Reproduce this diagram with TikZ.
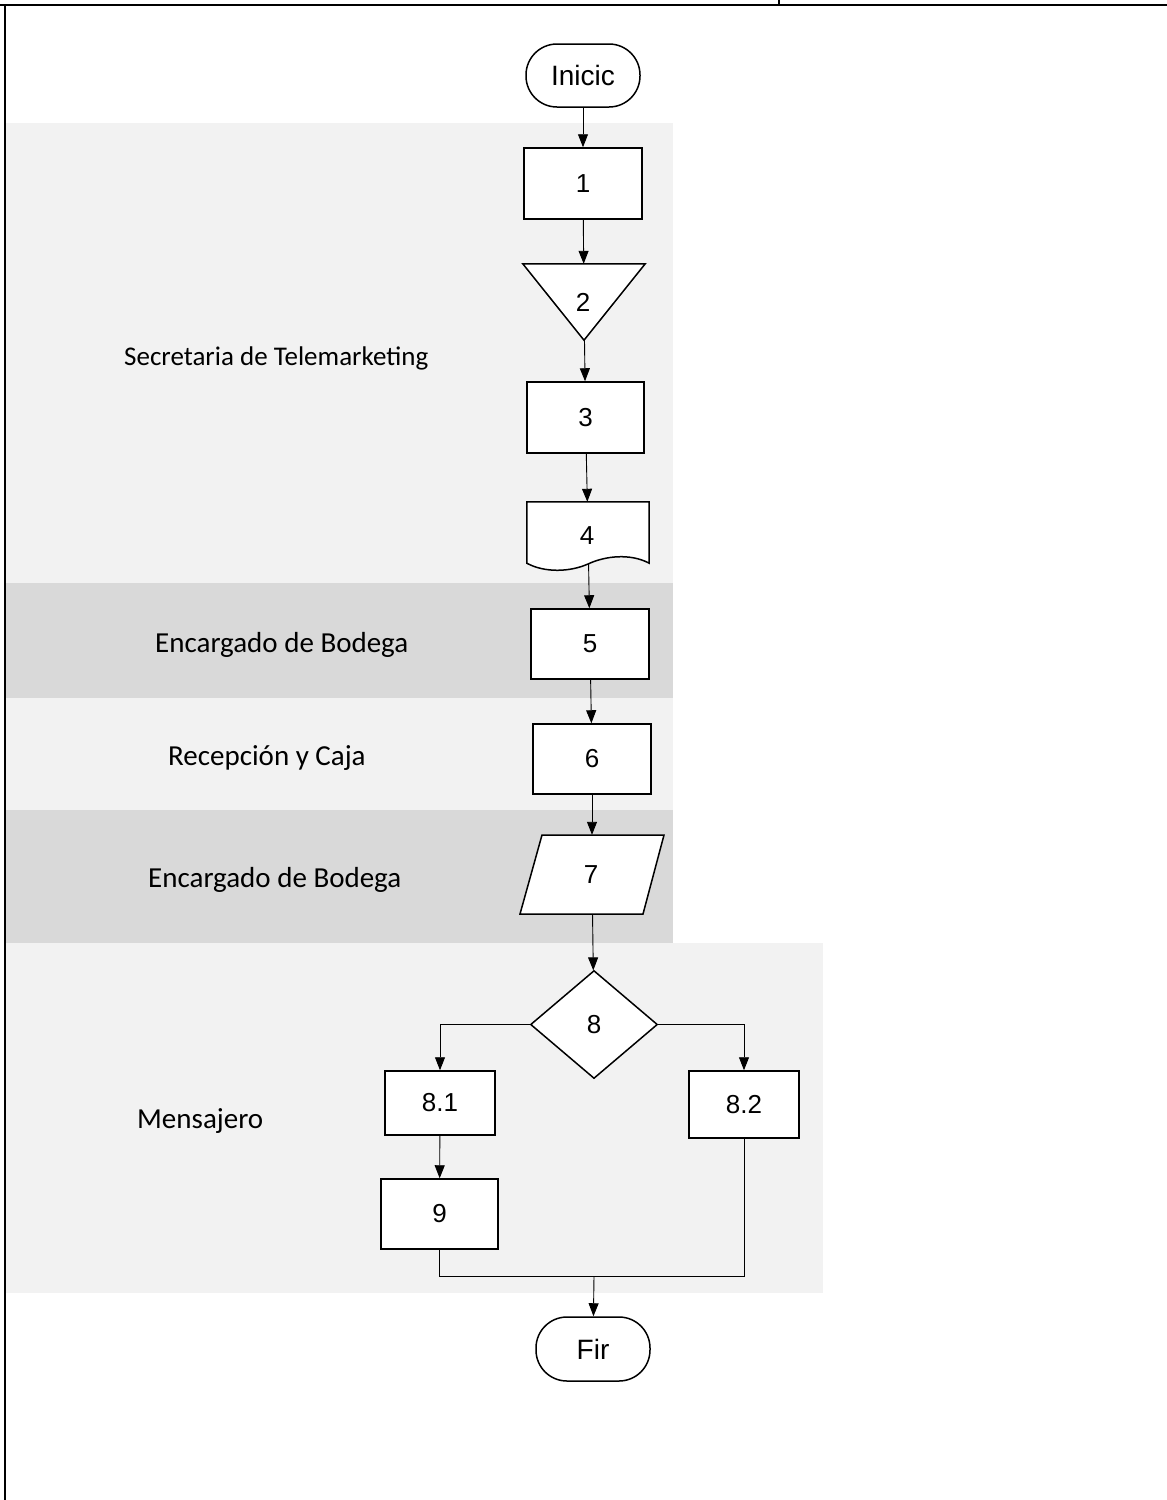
\documentclass[tikz,border=0pt]{standalone}
\usepackage{fontspec}
\setmainfont{Liberation Sans}
\newfontfamily\lanefont{Carlito}
\usetikzlibrary{arrows.meta,shapes.geometric}

\definecolor{lanelight}{HTML}{F2F2F2}
\definecolor{lanedark}{HTML}{D9D9D9}

\begin{document}
\begin{tikzpicture}[x=1pt,y=-1pt,
  box/.style={draw=black,line width=1.5pt,fill=white,inner sep=0pt,
    font=\fontsize{26}{30}\selectfont},
  term/.style={box,rounded corners=31pt,font=\fontsize{28}{32}\selectfont},
  ghost/.style={inner sep=0pt,font=\fontsize{26}{30}\selectfont},
  outline/.style={draw=black,line width=1.5pt,fill=white,line join=miter},
  lanelabel/.style={font=\lanefont\fontsize{29}{35}\selectfont,inner sep=0pt,anchor=base west},
  arr/.style={draw=black,line width=0.9pt,-{Triangle[length=13pt,width=10pt]}},
  link/.style={draw=black,line width=0.9pt}
]
\useasboundingbox (0,0) rectangle (1167,1500);

% frame lines
\draw[line width=2pt] (0,5) -- (1167,5);
\draw[line width=2pt] (5,5) -- (5,1500);
\draw[line width=2pt] (779,0) -- (779,5);

% swim lanes
\fill[lanelight] (6,123) rectangle (673,583);
\fill[lanedark]  (6,583) rectangle (673,698);
\fill[lanelight] (6,698) rectangle (673,810);
\fill[lanedark]  (6,810) rectangle (673,943);
\fill[lanelight] (6,943) rectangle (823,1293);

% lane labels
\node[lanelabel,font=\lanefont\fontsize{27}{33}\selectfont] (l1) at (124,365) {Secretaria de Telemarketing};
\node[lanelabel] (l2) at (155,652) {Encargado de Bodega};
\node[lanelabel] (l3) at (168,765) {Recepción y Caja};
\node[lanelabel] (l4) at (148,887) {Encargado de Bodega};
\node[lanelabel] (l5) at (137,1128) {Mensajero};

% start / end
\node[term,minimum width=114pt,minimum height=63pt] (ini) at (583,75.5) {Inicic};
\node[term,minimum width=114pt,minimum height=64pt] (fin) at (593,1349) {Fir};

% process boxes
\node[box,minimum width=118pt,minimum height=71pt] (b1) at (583,183.5) {1};
\node[box,minimum width=117pt,minimum height=71pt] (b3) at (585.5,417.5) {3};
\node[box,minimum width=118pt,minimum height=70pt] (b5) at (590,644) {5};
\node[box,minimum width=118pt,minimum height=70pt] (b6) at (592,759) {6};

% merge triangle
\node[ghost,minimum width=122pt,minimum height=76pt] (t2) at (584,302) {};
\draw[outline] (t2.north west) -- (t2.north east) -- (t2.south) -- cycle;
\node[ghost] (t2txt) at (583,302) {2};

% document
\node[ghost,minimum width=122pt,minimum height=61pt] (d4) at (588,532.5) {};
\draw[outline] (d4.south west) -- (d4.north west) -- (d4.north east) -- (d4.south east)
  .. controls (630,553) and (605,556) .. (588,564)
  .. controls (570,572) and (545,573) .. (d4.south west) -- cycle;
\node[ghost] (d4txt) at (587,536) {4};

% data parallelogram
\node[ghost,minimum width=122pt,minimum height=79pt] (p7) at (592,874.5) {};
\draw[outline] (542,835) -- (664,835) -- (643,914) -- (520,914) -- cycle;
\node[ghost] (p7txt) at (591,875) {7};

% decision
\node[box,diamond,minimum width=127pt,minimum height=108pt] (d8) at (594,1024.5) {8};

% branch boxes
\node[box,minimum width=110pt,minimum height=64pt] (b81) at (440,1103) {8.1};
\node[box,minimum width=110pt,minimum height=67pt] (b82) at (744,1104.5) {8.2};
\node[box,minimum width=117pt,minimum height=70pt] (b9) at (439.5,1214) {9};

\coordinate (mrg) at (594,1276);

% connectors
\draw[arr] (ini) -- (b1);
\draw[arr] (b1) -- (t2);
\draw[arr] (t2) -- (b3);
\draw[arr] (b3) -- (d4);
\draw[arr] (d4) -- (b5);
\draw[arr] (b5) -- (b6);
\draw[arr] (b6) -- (p7);
\draw[arr] (p7) -- (d8);
\draw[arr] (d8.west) -| (b81);
\draw[arr] (d8.east) -| (b82);
\draw[arr] (b81) -- (b9);
\draw[link] (b9.south) |- (mrg);
\draw[link] (b82.south) |- (mrg);
\draw[arr] (mrg) -- (fin);
\end{tikzpicture}
\end{document}
